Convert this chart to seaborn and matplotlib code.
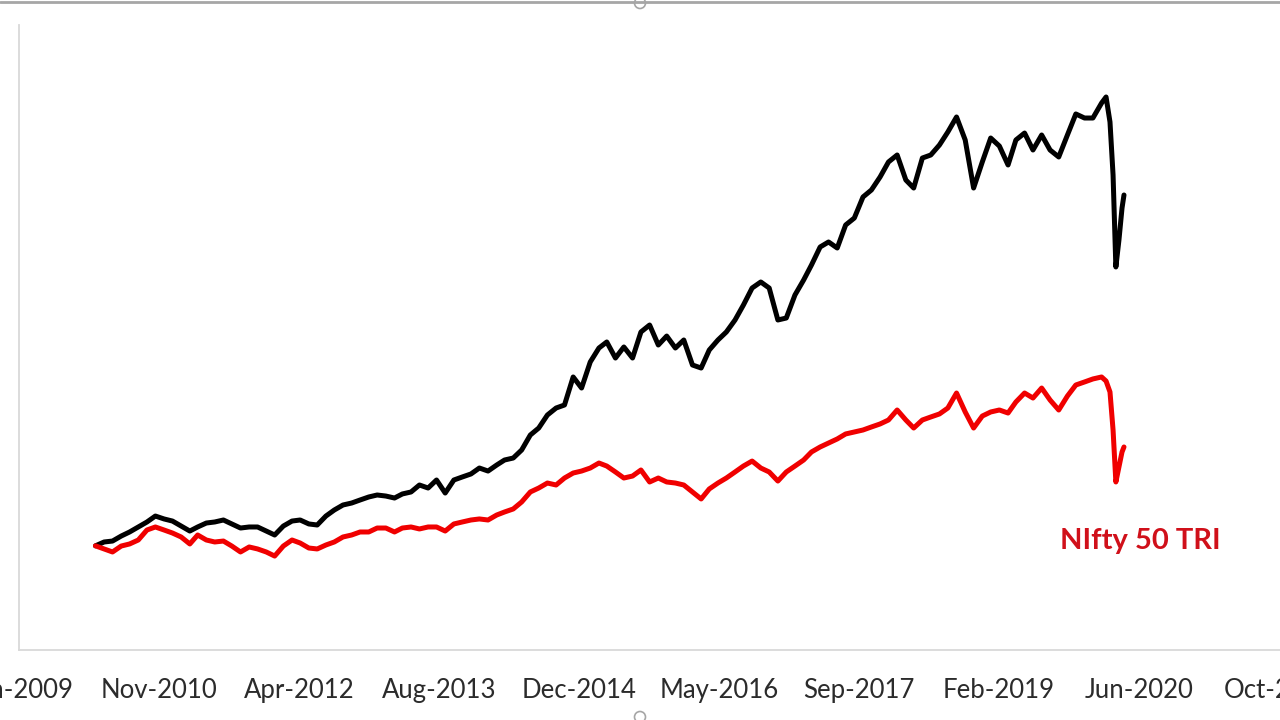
import matplotlib
matplotlib.use("Agg")
import matplotlib.pyplot as plt
import matplotlib.dates as mdates
from matplotlib.lines import Line2D
from matplotlib.patches import Ellipse
import pandas as pd
import seaborn as sns

# ---------------- data ----------------
fund_name = "Fund"
index_name = "NIfty 50 TRI"

fund_values = [
    100.0, 103.7, 104.6, 109.4, 113.3, 118.1, 122.9, 128.6, 125.8, 123.8,
    119.0, 114.2, 118.1, 121.9, 122.9, 124.8, 121.0, 117.1, 118.1, 118.1,
    114.2, 110.4, 119.0, 123.8, 124.8, 121.0, 120.0, 128.6, 134.4, 139.2,
    141.1, 144.0, 146.9, 148.8, 147.8, 145.9, 149.8, 151.7, 158.4, 155.5,
    163.2, 150.7, 163.2, 166.1, 169.0, 174.7, 171.8, 177.6, 182.4, 184.3,
    192.0, 206.4, 213.1, 225.6, 232.3, 235.2, 262.1, 251.5, 276.5, 289.9,
    295.7, 280.3, 290.9, 280.3, 305.3, 312.0, 292.8, 301.4, 289.9, 297.6,
    273.6, 270.7, 288.0, 297.6, 305.3, 316.8, 331.2, 347.5, 353.3, 347.5,
    316.8, 318.7, 340.8, 355.2, 369.6, 386.9, 391.7, 385.9, 408.0, 414.7,
    434.9, 441.6, 454.1, 468.5, 475.2, 451.2, 443.5, 472.3, 475.2, 484.8,
    497.3, 511.7, 489.6, 443.5, 468.5, 491.5, 483.8, 465.6, 489.6, 496.3,
    480.0, 494.4, 480.0, 473.3, 494.4, 514.6, 510.7, 510.7, 525.1,
    530.9, 506.9, 456.0, 367.7, 393.6, 424.3, 436.8,
]

index_values = [
    100.0, 97.0, 94.1, 99.8, 101.8, 105.6, 115.2, 118.1, 115.2, 112.3,
    108.5, 101.8, 110.4, 105.6, 103.7, 104.6, 99.8, 94.1, 98.9, 97.0,
    94.1, 90.2, 99.8, 105.6, 102.7, 97.9, 97.0, 100.8, 103.7, 108.5,
    110.4, 113.3, 113.3, 117.1, 117.1, 113.3, 117.1, 118.1, 116.2, 118.1,
    118.1, 114.2, 121.0, 122.9, 124.8, 125.8, 124.8, 129.6, 132.5, 135.4,
    142.1, 151.7, 155.5, 160.3, 158.4, 165.1, 169.9, 171.8, 174.7, 179.5,
    176.6, 170.9, 165.1, 167.0, 172.8, 161.3, 165.1, 161.3, 160.3, 158.4,
    151.7, 145.0, 154.6, 160.3, 165.1, 170.9, 176.6, 181.4, 174.7, 170.9,
    162.2, 170.9, 176.6, 182.4, 190.1, 194.9, 198.7, 202.6, 207.4, 209.3,
    211.2, 214.1, 217.0, 220.8, 230.4, 220.8, 213.1, 220.8, 223.7, 226.6,
    232.3, 246.7, 228.5, 213.1, 224.6, 228.5, 230.4, 227.5, 238.1, 246.7,
    241.9, 251.5, 240.0, 230.4, 243.8, 254.4, 257.3, 260.2, 262.1,
    258.2, 247.7, 211.2, 161.3, 175.7, 190.1, 194.9,
]

monthly_dates = pd.date_range("2010-03-01", "2020-01-01", freq="MS")
tail_dates = pd.to_datetime(["2020-01-17", "2020-01-31", "2020-02-11", "2020-02-21",
                             "2020-03-03", "2020-03-14", "2020-03-21"])
dates = monthly_dates.append(tail_dates)

tick_labels = ["Jun-2009", "Nov-2010", "Apr-2012", "Aug-2013", "Dec-2014",
               "May-2016", "Sep-2017", "Feb-2019", "Jun-2020", "Oct-2021"]
axis_start = pd.Timestamp("2009-06-01")
tick_step_days = 500

# ---------------- build long table ----------------
df = pd.concat([
    pd.DataFrame({"date": dates, "value": fund_values, "series": fund_name}),
    pd.DataFrame({"date": dates, "value": index_values, "series": index_name}),
], ignore_index=True)

# ---------------- style ----------------
sns.set_style("white")
plt.rcParams["font.family"] = ["Lato", "DejaVu Sans"]

fig = plt.figure(figsize=(12.8, 7.2), dpi=100)
ax = fig.add_axes([19 / 1280, 70 / 720, 1266 / 1280, 625 / 720])

sns.lineplot(data=df, x="date", y="value", hue="series",
             hue_order=[fund_name, index_name],
             palette={fund_name: "#000000", index_name: "#F00000"},
             linewidth=3.6, legend=False, ax=ax, sort=False)
for ln in ax.get_lines():
    ln.set_solid_joinstyle("round")
    ln.set_solid_capstyle("round")

ax.set_ylim(0, 600)
ax.set_xlim(mdates.date2num(axis_start),
            mdates.date2num(axis_start + pd.Timedelta(days=4521)))

ticks = [mdates.date2num(axis_start + pd.Timedelta(days=tick_step_days * k))
         for k in range(len(tick_labels))]
ax.set_xticks(ticks)
ax.set_xticklabels(tick_labels, fontsize=18.5, color="#2b2b2b")
ax.tick_params(axis="x", length=0, pad=20)
ax.set_yticks([])
ax.set_xlabel("")
ax.set_ylabel("")

for side in ["top", "right"]:
    ax.spines[side].set_visible(False)
for side in ["left", "bottom"]:
    ax.spines[side].set_color("#D9D9D9")
    ax.spines[side].set_linewidth(1.3)

ax.text(mdates.date2num(pd.Timestamp("2019-08-07")), 104.6, index_name,
        color="#D0101A", fontsize=21, fontweight="bold",
        ha="left", va="center")

# chart frame border at the top and selection handles
fig.add_artist(Line2D([0, 1], [1 - 2 / 720, 1 - 2 / 720], transform=fig.transFigure,
                      color="#A6A6A6", lw=2))
for yy in [1 - 3 / 720, 3 / 720]:
    fig.add_artist(Ellipse((0.5, yy), 11 / 1280, 11 / 720, transform=fig.transFigure,
                           facecolor="white", edgecolor="#A6A6A6", lw=1.2))

fig.savefig("out.png", dpi=100)
